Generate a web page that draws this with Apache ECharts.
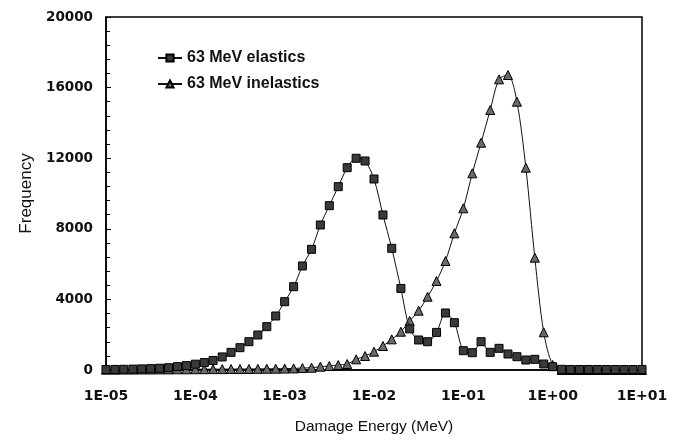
<!DOCTYPE html>
<html>
<head>
<meta charset="utf-8">
<script src="https://cdn.jsdelivr.net/npm/echarts@6/dist/echarts.min.js"></script>
<style>
html,body{margin:0;padding:0;background:#fff;}
#c{width:679px;height:440px;}
</style>
</head>
<body>
<div id="c"></div>
<script>
// Damage energy bins (MeV), 10 per decade
const energies = [
  1.00e-5,1.26e-5,1.58e-5,2.00e-5,2.51e-5,3.16e-5,3.98e-5,5.01e-5,6.31e-5,7.94e-5,
  1.00e-4,1.26e-4,1.58e-4,2.00e-4,2.51e-4,3.16e-4,3.98e-4,5.01e-4,6.31e-4,7.94e-4,
  1.00e-3,1.26e-3,1.58e-3,2.00e-3,2.51e-3,3.16e-3,3.98e-3,5.01e-3,6.31e-3,7.94e-3,
  1.00e-2,1.26e-2,1.58e-2,2.00e-2,2.51e-2,3.16e-2,3.98e-2,5.01e-2,6.31e-2,7.94e-2,
  1.00e-1,1.26e-1,1.58e-1,2.00e-1,2.51e-1,3.16e-1,3.98e-1,5.01e-1,6.31e-1,7.94e-1,
  1.00e0,1.26e0,1.58e0,2.00e0,2.51e0,3.16e0,3.98e0,5.01e0,6.31e0,7.94e0,
  1.00e1
];
const elastics = [
  25,32,40,50,62,78,100,130,190,250,
  330,420,540,740,1000,1265,1604,1983,2455,3060,
  3870,4720,5893,6838,8216,9310,10387,11462,11995,11842,
  10822,8782,6895,4620,2330,1700,1604,2130,3230,2680,
  1094,980,1604,1000,1228,907,754,567,606,340,
  187,40,30,30,30,30,30,30,30,30,
  30
];
const inelastics = [
  20,20,25,25,30,30,35,35,40,40,
  45,45,50,50,55,55,60,65,70,75,
  80,90,110,130,187,227,283,340,604,793,
  1038,1360,1737,2170,2780,3360,4153,5043,6176,7745,
  9160,11143,12879,14731,16468,16714,15202,11462,6364,2136,
  283,0,0,0,0,0,0,0,0,0,
  0
];
const yTicks = [0,4000,8000,12000,16000,20000];
const seriesNames = ['63 MeV elastics','63 MeV inelastics'];

function fmtE(v){
  const e = Math.round(Math.log10(v));
  const s = e < 0 ? '-' : '+';
  const a = Math.abs(e);
  return '1E' + s + (a < 10 ? '0' + a : '' + a);
}

const chart = echarts.init(document.getElementById('c'), null, {renderer:'canvas'});
const font = 'Liberation Sans, Arial, sans-serif';
const tickFont = 'DejaVu Sans, sans-serif';
chart.setOption({
  animation:false,
  backgroundColor:'#fff',
  grid:{left:106,right:37,top:17,bottom:70,containLabel:false,
    show:true,borderColor:'#000',borderWidth:1.5,backgroundColor:'transparent'},
  legend:{
    data:seriesNames,
    orient:'vertical',
    left:152,top:45,
    itemWidth:24,itemHeight:9,itemGap:10,
    textStyle:{fontFamily:font,fontWeight:'bold',fontSize:16,color:'#111'}
  },
  xAxis:{
    type:'log',logBase:10,min:1e-5,max:10,interval:1,
    name:'Damage Energy (MeV)',nameLocation:'middle',nameGap:49,
    nameTextStyle:{fontFamily:font,fontSize:15.5,color:'#111'},
    axisLine:{show:true,lineStyle:{color:'#000',width:1.5}},
    axisTick:{show:false},
    axisLabel:{formatter:fmtE,fontFamily:tickFont,fontWeight:'bold',fontSize:14,color:'#111',margin:19},
    splitLine:{show:false}
  },
  yAxis:{
    type:'value',min:0,max:20000,interval:4000,
    name:'Frequency',nameLocation:'middle',nameGap:56,nameRotate:90,
    nameTextStyle:{fontFamily:font,fontSize:17,color:'#111'},
    axisLine:{show:true,lineStyle:{color:'#000',width:1.5}},
    axisTick:{show:true,inside:true,length:5,lineStyle:{color:'#000'}},
    minorTick:{show:true,splitNumber:5,length:4,lineStyle:{color:'#000'}},
    axisLabel:{fontFamily:tickFont,fontWeight:'bold',fontSize:13.5,color:'#111',margin:13,
      formatter:function(v){return yTicks.indexOf(v)>=0?String(v):'';}},
    splitLine:{show:false}
  },
  series:[
    {
      name:seriesNames[0],type:'line',smooth:0.3,
      data:energies.map((x,i)=>[x,elastics[i]]),
      symbol:'rect',symbolSize:8,
      lineStyle:{color:'#111',width:1},
      itemStyle:{color:'#3a3a3a',borderColor:'#000',borderWidth:1},
      z:3
    },
    {
      name:seriesNames[1],type:'line',smooth:0.3,
      data:energies.map((x,i)=>[x,inelastics[i]]),
      symbol:'triangle',symbolSize:9,
      lineStyle:{color:'#111',width:1},
      itemStyle:{color:'#6a6a6a',borderColor:'#000',borderWidth:1},
      z:2
    }
  ]
});
</script>
</body>
</html>
